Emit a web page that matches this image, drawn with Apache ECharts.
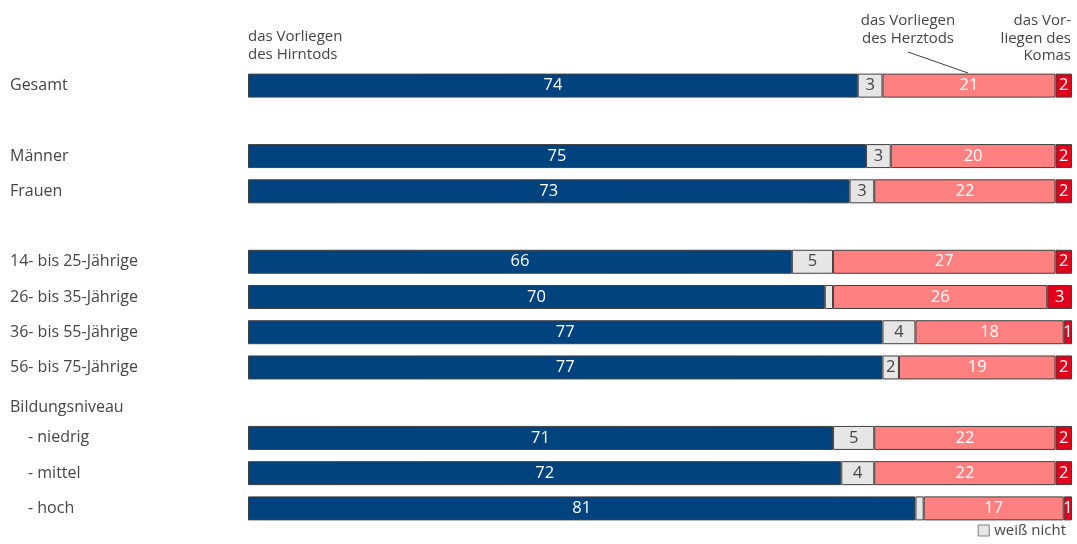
<!DOCTYPE html>
<html>
<head>
<meta charset="utf-8">
<script src="https://cdn.jsdelivr.net/npm/echarts@6/dist/echarts.min.js"></script>
<style>
  html, body { margin: 0; padding: 0; background: #fff; }
  #chart { width: 1077px; height: 544px; }
</style>
</head>
<body>
<div id="chart"></div>
<script>
// Rows of the chart (blank entries are spacer rows)
var categories = ['Gesamt', ' ', 'Männer', 'Frauen', '  ',
  '14- bis 25-Jährige', '26- bis 35-Jährige', '36- bis 55-Jährige', '56- bis 75-Jährige',
  'Bildungsniveau', '- niedrig', '- mittel', '- hoch'];

// Shares in percent
var hirntod = [74, null, 75, 73, null, 66, 70, 77, 77, null, 71, 72, 81];
var weissNicht = [3, null, 3, 3, null, 5, 1, 4, 2, null, 5, 4, 1];
var herztod = [21, null, 20, 22, null, 27, 26, 18, 19, null, 22, 22, 17];
var koma = [2, null, 2, 2, null, 2, 3, 1, 2, null, 2, 2, 1];

var seriesNames = ['das Vorliegen des Hirntods', 'weiß nicht', 'das Vorliegen des Herztods', 'das Vorliegen des Komas'];

var FONT = '"Open Sans"';
var TXT = '#454545';

function barSeries(name, data, color, labelColor, minLabel) {
  return {
    name: name,
    type: 'bar',
    stack: 'total',
    barWidth: 24,
    data: data,
    itemStyle: { color: color, borderColor: '#404040', borderWidth: 1 },
    label: {
      show: true,
      position: 'inside',
      color: labelColor,
      fontFamily: FONT,
      fontSize: 16.5,
      formatter: function (p) { return p.value >= minLabel ? String(p.value) : ''; }
    },
    emphasis: { disabled: true }
  };
}

var chart = echarts.init(document.getElementById('chart'), null, { renderer: 'canvas' });

chart.setOption({
  animation: false,
  textStyle: { fontFamily: FONT },
  grid: { left: 248, right: 5, top: 68, bottom: 18, containLabel: false },
  xAxis: { type: 'value', min: 0, max: 100, show: false },
  yAxis: {
    type: 'category',
    data: categories,
    inverse: true,
    axisLine: { show: false },
    axisTick: { show: false },
    axisLabel: {
      align: 'left',
      margin: 238,
      color: TXT,
      fontFamily: FONT,
      fontSize: 16,
      formatter: function (v) {
        if (v.charAt(0) === '-') return '{ind|' + v + '}';
        if (v === 'Bildungsniveau') return '{grp|' + v + '}';
        return v;
      },
      rich: {
        ind: { padding: [0, 0, 0, 18], color: TXT, fontFamily: FONT, fontSize: 16 },
        grp: { padding: [10, 0, 0, 0], color: TXT, fontFamily: FONT, fontSize: 16 }
      }
    }
  },
  legend: {
    data: [{ name: 'weiß nicht', itemStyle: { color: '#E6E6E6', borderColor: '#7f7f7f', borderWidth: 1 } }],
    right: 6,
    bottom: 1,
    icon: 'rect',
    itemWidth: 11,
    itemHeight: 11,
    itemGap: 4,
    textStyle: { color: TXT, fontFamily: FONT, fontSize: 15 },
    selectedMode: false
  },
  series: [
    barSeries(seriesNames[0], hirntod, '#00437F', '#ffffff', 1),
    barSeries(seriesNames[1], weissNicht, '#E6E6E6', TXT, 2),
    barSeries(seriesNames[2], herztod, '#FF8080', '#ffffff', 1),
    barSeries(seriesNames[3], koma, '#E2001A', '#ffffff', 1)
  ],
  graphic: [
    {
      type: 'text', left: 248, top: 28,
      style: { text: 'das Vorliegen\ndes Hirntods', fill: TXT, font: '15px ' + FONT, lineHeight: 18 }
    },
    {
      type: 'text', x: 908, y: 12,
      style: { text: 'das Vorliegen\ndes Herztods', fill: TXT, font: '15px ' + FONT, lineHeight: 18, align: 'center' }
    },
    {
      type: 'line',
      shape: { x1: 908, y1: 52, x2: 968, y2: 73 },
      style: { stroke: '#404040', lineWidth: 1 }
    },
    {
      type: 'text', x: 1071, y: 12,
      style: { text: 'das Vor-\nliegen des\nKomas', fill: TXT, font: '15px ' + FONT, lineHeight: 17.5, align: 'right' }
    }
  ]
});
</script>
</body>
</html>
